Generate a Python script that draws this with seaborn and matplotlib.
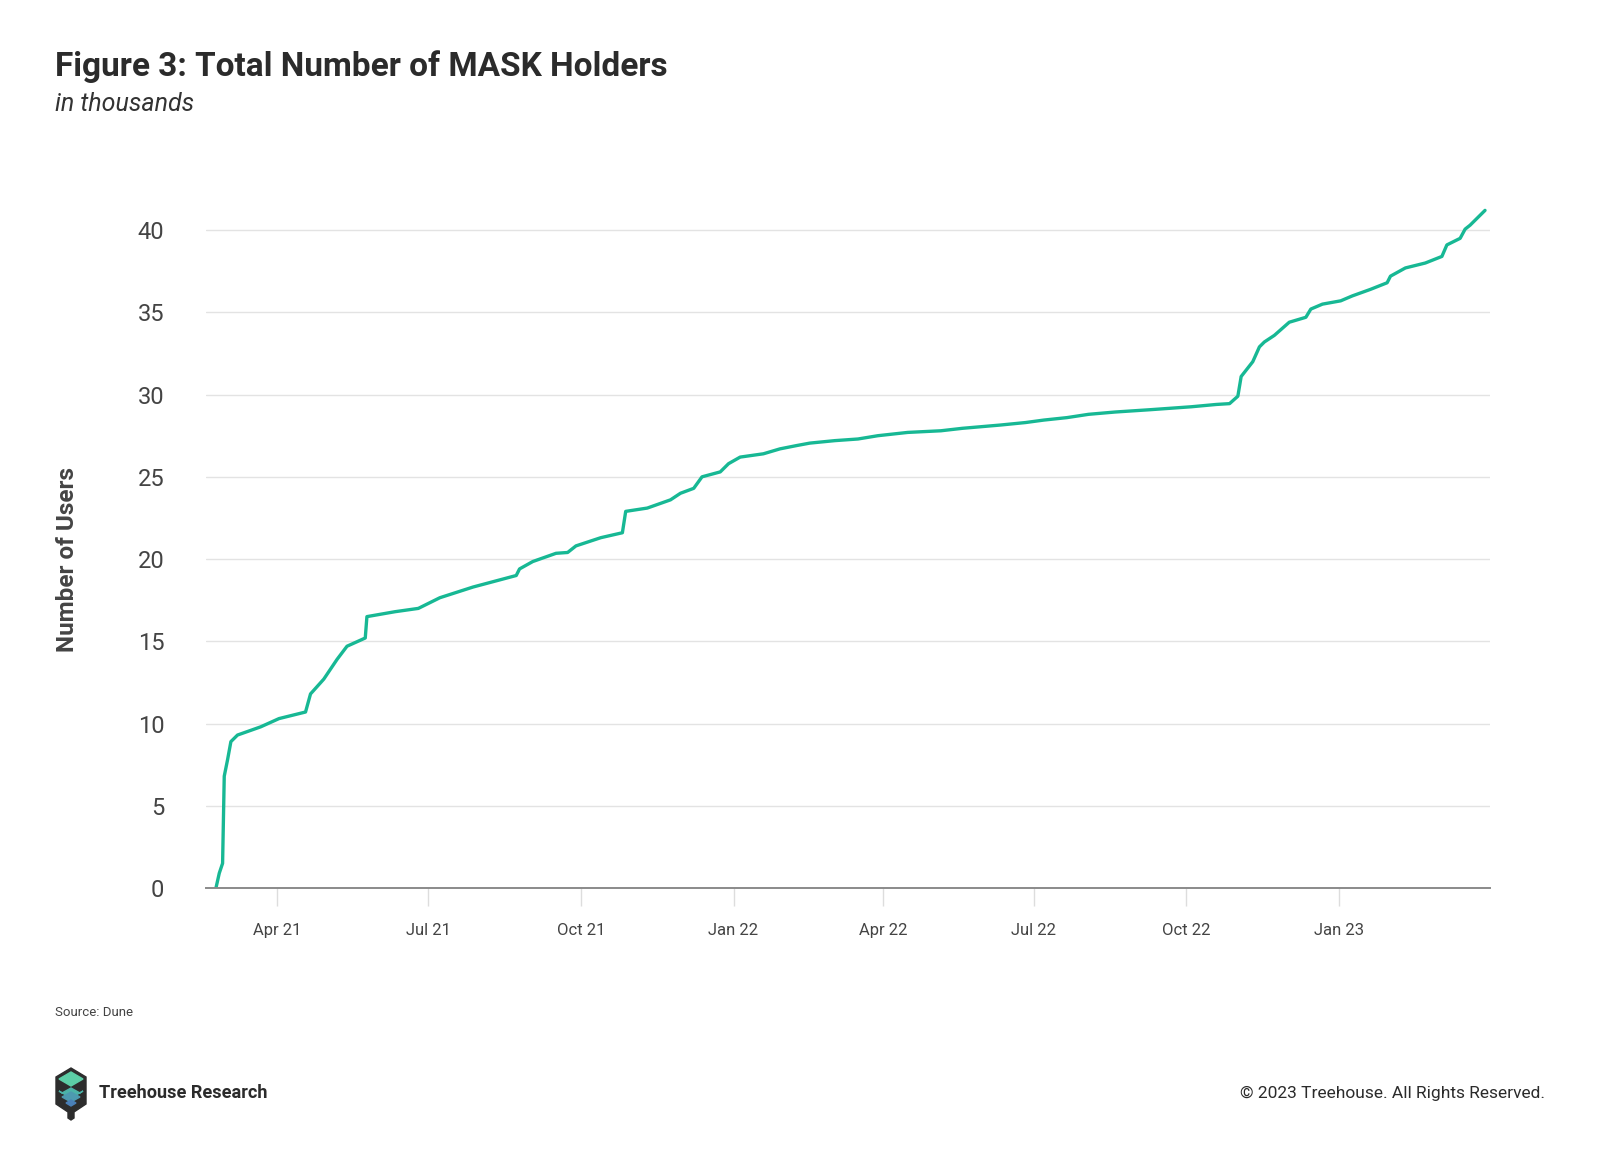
import pandas as pd
import numpy as np
import matplotlib
matplotlib.use("Agg")
import matplotlib.pyplot as plt
import matplotlib.dates as mdates
from matplotlib.patches import Polygon
import seaborn as sns

# data (thousands of holders)
dates = [
    "2021-02-23", "2021-02-25", "2021-02-27", "2021-02-28", "2021-03-02", "2021-03-04",
    "2021-03-08", "2021-03-22", "2021-04-02", "2021-04-18", "2021-04-21", "2021-04-29",
    "2021-05-07", "2021-05-13", "2021-05-24", "2021-05-25", "2021-06-11", "2021-06-25",
    "2021-07-08", "2021-07-28", "2021-08-23", "2021-08-25", "2021-09-02", "2021-09-16",
    "2021-09-23", "2021-09-28", "2021-10-13", "2021-10-26", "2021-10-28", "2021-11-10",
    "2021-11-24", "2021-11-30", "2021-12-08", "2021-12-13", "2021-12-24", "2021-12-29",
    "2022-01-05", "2022-01-19", "2022-01-29", "2022-02-08", "2022-02-16", "2022-03-03",
    "2022-03-17", "2022-03-29", "2022-04-16", "2022-05-06", "2022-05-19", "2022-06-11",
    "2022-06-26", "2022-07-07", "2022-07-21", "2022-08-03", "2022-08-19", "2022-09-09",
    "2022-10-04", "2022-10-19", "2022-10-27", "2022-11-01", "2022-11-03", "2022-11-10",
    "2022-11-14", "2022-11-17", "2022-11-23", "2022-12-02", "2022-12-12", "2022-12-15",
    "2022-12-22", "2023-01-02", "2023-01-09", "2023-01-20", "2023-01-30", "2023-02-01",
    "2023-02-10", "2023-02-22", "2023-03-04", "2023-03-07", "2023-03-15", "2023-03-18",
    "2023-03-21", "2023-03-30",
]
holders = [
    0.0, 0.9, 1.5, 6.8, 7.8, 8.9,
    9.3, 9.8, 10.3, 10.7, 11.8, 12.7,
    13.9, 14.7, 15.2, 16.5, 16.8, 17.0,
    17.65, 18.3, 19.0, 19.4, 19.85, 20.35,
    20.4, 20.8, 21.3, 21.6, 22.9, 23.1,
    23.6, 24.0, 24.3, 25.0, 25.3, 25.8,
    26.2, 26.4, 26.7, 26.9, 27.05, 27.2,
    27.3, 27.5, 27.7, 27.8, 27.95, 28.15,
    28.3, 28.45, 28.6, 28.8, 28.94, 29.08,
    29.26, 29.4, 29.45, 29.9, 31.1, 32.0,
    32.9, 33.2, 33.6, 34.4, 34.7, 35.2,
    35.5, 35.7, 36.0, 36.4, 36.8, 37.2,
    37.7, 38.0, 38.4, 39.1, 39.5, 40.06,
    40.3, 41.2,
]
y_ticks = [0, 5, 10, 15, 20, 25, 30, 35, 40]
x_ticks = ["2021-04-01", "2021-07-01", "2021-10-01", "2022-01-01",
           "2022-04-01", "2022-07-01", "2022-10-01", "2023-01-01"]

df = pd.DataFrame({"date": pd.to_datetime(dates), "holders": holders})

sns.set_theme(style="white")
plt.rcParams["font.family"] = ["Roboto", "DejaVu Sans"]

W, H = 1600, 1160
fig = plt.figure(figsize=(W / 100, H / 100), dpi=100)
fig.patch.set_facecolor("white")

# axes box in pixel terms: left 206, right 1490, zero line at 888
ax = fig.add_axes([206 / W, 1 - 888 / H, (1490 - 206) / W, (888 - 189) / H])

sns.lineplot(data=df, x="date", y="holders", ax=ax, color="#17b894", linewidth=2.4)

ax.set_ylim(0, 42.5)
ax.set_xlim(pd.Timestamp("2021-02-17"), pd.Timestamp("2023-04-02"))
ax.set_yticks(y_ticks)
ax.set_xticks(pd.to_datetime(x_ticks))
ax.xaxis.set_major_formatter(mdates.DateFormatter("%b %y"))
ax.yaxis.grid(True, color="#e3e3e3", linewidth=1.0)
ax.xaxis.grid(False)
for s in ["top", "right", "left"]:
    ax.spines[s].set_visible(False)
ax.spines["bottom"].set_color("#8a8a8a")
ax.spines["bottom"].set_linewidth(1.4)

ax.tick_params(axis="x", length=13, width=1, color="#dddddd", pad=12,
               labelsize=12, labelcolor="#444444", bottom=True)
ax.tick_params(axis="y", length=0, pad=30, labelsize=17, labelcolor="#444444")

ax.set_xlabel("")
ax.set_ylabel("")

# title block
fig.text(55 / W, 1 - 67 / H, "Figure 3: Total Number of MASK Holders", fontsize=24,
         fontweight="bold", color="#2b2b2b", va="center", ha="left")
fig.text(55 / W, 1 - 104 / H, "in thousands", fontsize=18, style="italic",
         color="#333333", va="center", ha="left")

fig.text(67 / W, 1 - 559 / H, "Number of Users", fontsize=17.5, fontweight="bold",
         color="#444444", rotation=90, va="center", ha="center")

# footer
fig.text(55 / W, 1 - 1012 / H, "Source: Dune", fontsize=9.5, color="#444444",
         va="center", ha="left")
fig.text(99 / W, 1 - 1093 / H, "Treehouse Research", fontsize=13.1, fontweight="bold",
         color="#2b2b2b", va="center", ha="left")
fig.text(1545 / W, 1 - 1093 / H, "\u00a9 2023 Treehouse. All Rights Reserved.",
         fontsize=12.5, color="#2b2b2b", va="center", ha="right")

# logo: dark shield with chevrons
lx = fig.add_axes([52 / W, 1 - 1122 / H, 38 / W, 56 / H])
lx.set_xlim(0, 38)
lx.set_ylim(0, 56)
lx.axis("off")
shield = [(19, 54), (34, 45), (34, 18), (22, 10), (22, 4), (19, 2), (16, 4),
          (16, 10), (4, 18), (4, 45)]
lx.add_patch(Polygon(shield, closed=True, color="#2d2d2d"))
lx.add_patch(Polygon([(19, 50), (31, 43), (19, 36), (7, 43)], closed=True, color="#5ccea6"))
lx.add_patch(Polygon([(7, 31), (19, 24), (31, 31), (28, 29), (19, 34), (10, 29)],
                     closed=True, color="#4bb3a8"))
lx.add_patch(Polygon([(19, 30), (28, 25), (19, 20), (10, 25)], closed=True, color="#4d9ab0"))
lx.add_patch(Polygon([(19, 22), (24, 19), (19, 16), (14, 19)], closed=True, color="#4a80b8"))

fig.savefig("out.png", dpi=100, facecolor="white")
